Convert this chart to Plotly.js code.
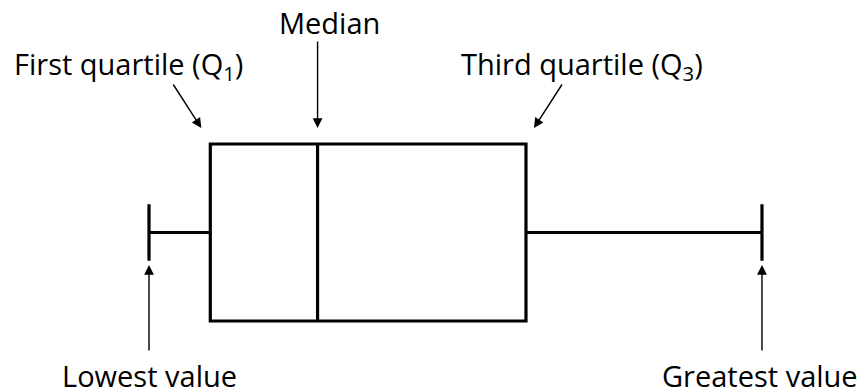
<!DOCTYPE html>
<html>
<head>
<meta charset="utf-8">
<script src="https://cdn.plot.ly/plotly-3.0.1.min.js"></script>
<style>html,body{margin:0;padding:0;background:#fff}#chart{width:860px;height:391px}</style>
</head>
<body>
<div id="chart"></div>
<script>
// Five-number summary (arbitrary units)
var lowestValue = [0];
var firstQuartile = [1];
var medianValue = [2.75];
var thirdQuartile = [6.15];
var greatestValue = [10];
var labels = ["Median", "First quartile (Q<sub>1</sub>)", "Third quartile (Q<sub>3</sub>)", "Lowest value", "Greatest value"];

var FONT = {family: "Open Sans, sans-serif", size: 29, color: "#000"};

var trace = {
  type: "box",
  orientation: "h",
  y: [0],
  q1: firstQuartile,
  median: medianValue,
  q3: thirdQuartile,
  lowerfence: lowestValue,
  upperfence: greatestValue,
  boxpoints: false,
  width: 1.77,
  whiskerwidth: 0.32,
  fillcolor: "#ffffff",
  line: {color: "#000000", width: 3.2},
  hoverinfo: "skip",
  showlegend: false
};

function arrow(x, y, ax, ay, xshift) {
  return {xref: "x", yref: "y", x: x, y: y, ax: ax, ay: ay, xshift: xshift || 0,
    text: "", showarrow: true, arrowhead: 2, arrowsize: 1.4, arrowwidth: 1.4, arrowcolor: "#000"};
}
function label(text, x, y) {
  return {xref: "paper", yref: "y", x: x, y: y, text: text, showarrow: false,
    xanchor: "center", yanchor: "middle", font: FONT};
}

var layout = {
  width: 860, height: 391,
  margin: {l: 0, r: 0, t: 0, b: 0},
  paper_bgcolor: "#fff", plot_bgcolor: "#fff",
  xaxis: {range: [-2.4307, 11.599], visible: false, fixedrange: true},
  yaxis: {range: [-1.585, 2.325], visible: false, fixedrange: true},
  annotations: [
    arrow(medianValue[0], 1.045, 0, -88),
    arrow(firstQuartile[0], 1.045, -29, -45, -9),
    arrow(thirdQuartile[0], 1.045, 29, -45, 8),
    arrow(lowestValue[0], -0.325, 0, 87),
    arrow(greatestValue[0], -0.325, 0, 87),
    label(labels[0], 329/860, 2.105),
    label(labels[1], 128/860, 1.675),
    label(labels[2], 582/860, 1.675),
    label(labels[3], 149/860, -1.425),
    label(labels[4], 760/860, -1.425)
  ]
};

Plotly.newPlot("chart", [trace], layout, {displayModeBar: false, staticPlot: true});
</script>
</body>
</html>
